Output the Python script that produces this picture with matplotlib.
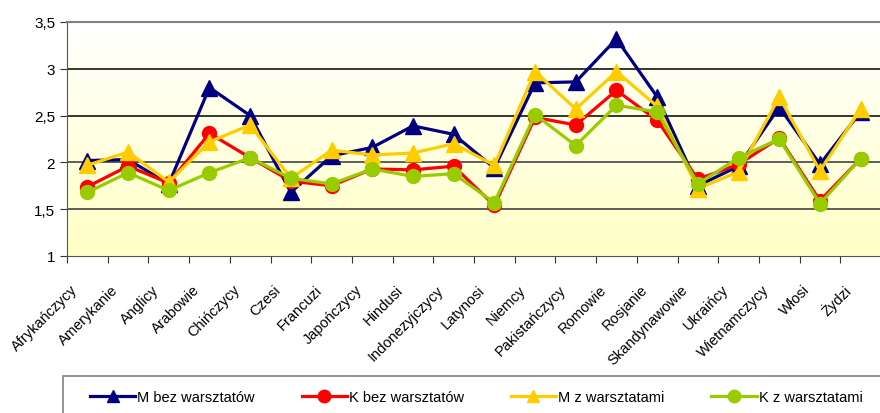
import numpy as np
import matplotlib
matplotlib.use('Agg')
import matplotlib.pyplot as plt
import matplotlib.transforms as mtransforms
from matplotlib.patches import Rectangle
from matplotlib.ticker import FixedLocator, FuncFormatter, NullFormatter

plt.rcParams['font.family'] = ['Liberation Sans', 'DejaVu Sans']

# categories and series
groups = ['Afrykańczycy', 'Amerykanie', 'Anglicy', 'Arabowie', 'Chińczycy', 'Czesi',
          'Francuzi', 'Japończycy', 'Hindusi', 'Indonezyjczycy', 'Latynosi', 'Niemcy',
          'Pakistańczycy', 'Romowie', 'Rosjanie', 'Skandynawowie', 'Ukraińcy',
          'Wietnamczycy', 'Włosi', 'Żydzi']
m_bez = [2.02, 2.03, 1.77, 2.80, 2.50, 1.68, 2.07, 2.16, 2.39, 2.30,
         1.94, 2.85, 2.86, 3.32, 2.70, 1.75, 1.96, 2.59, 1.98, 2.54]
k_bez = [1.74, 1.96, 1.78, 2.31, 2.05, 1.80, 1.75, 1.93, 1.92, 1.96,
         1.54, 2.48, 2.40, 2.77, 2.45, 1.82, 1.98, 2.26, 1.59, 2.04]
m_z = [1.97, 2.11, 1.79, 2.22, 2.40, 1.83, 2.13, 2.08, 2.10, 2.20,
       1.97, 2.97, 2.57, 2.97, 2.60, 1.72, 1.90, 2.70, 1.91, 2.57]
k_z = [1.68, 1.89, 1.70, 1.89, 2.05, 1.83, 1.77, 1.93, 1.85, 1.88,
       1.57, 2.51, 2.18, 2.61, 2.54, 1.77, 2.05, 2.25, 1.56, 2.04]
y_ticks = [1, 1.5, 2, 2.5, 3, 3.5]

fig = plt.figure(figsize=(8.8, 4.14), dpi=100)
ax = fig.add_axes([67 / 880, 1 - 257 / 414, 814 / 880, 234 / 414])

x = np.arange(len(groups))
ax.set_xlim(-0.5, len(groups) - 0.5)
ax.set_ylim(1, 3.5)

# white -> pale yellow gradient behind the plot
grad = np.linspace(0, 1, 256).reshape(-1, 1)
cmap = matplotlib.colors.LinearSegmentedColormap.from_list('bg', ['#FFFFFF', '#FFFFC6'])
ax.imshow(grad, extent=(-0.5, len(groups) - 0.5, 1, 3.5), cmap=cmap,
          aspect='auto', zorder=0, origin='upper')

for v in [1.5, 2, 2.5, 3]:
    ax.axhline(v, color='#000000' if v >= 2.5 else '#333333', lw=1.1, zorder=1)

ax.plot(x, m_bez, color='#000080', lw=2.3, marker='^', ms=11, label='M bez warsztatów', zorder=3)
ax.plot(x, k_bez, color='#FF0000', lw=2.3, marker='o', ms=10, label='K bez warsztatów', zorder=4)
ax.plot(x, m_z, color='#FFCC00', lw=2.3, marker='^', ms=11, label='M z warsztatami', zorder=5)
ax.plot(x, k_z, color='#99CC00', lw=2.3, marker='o', ms=10, label='K z warsztatami', zorder=6)

# category ticks sit on the boundaries, labels drawn as rotated texts
ax.set_xticks(np.arange(-0.5, len(groups), 1))
ax.xaxis.set_major_formatter(NullFormatter())
ax.tick_params(axis='x', length=5, color='#333333')
shift = mtransforms.ScaledTranslation(-12 / 100, -31 / 100, fig.dpi_scale_trans)
for i, name in enumerate(groups):
    ax.text(i, 0, name, rotation=45, ha='right', va='center', rotation_mode='anchor',
            fontsize=10.5, transform=ax.get_xaxis_transform() + shift, clip_on=False)

ax.yaxis.set_major_locator(FixedLocator(y_ticks))
ax.yaxis.set_major_formatter(FuncFormatter(lambda v, p: ('%g' % v).replace('.', ',')))
ax.tick_params(axis='y', length=5, labelsize=11, color='#333333')

ax.spines['right'].set_visible(False)
ax.spines['top'].set_color('#808080')
ax.spines['top'].set_linewidth(1.5)
ax.spines['left'].set_color('#555555')
ax.spines['bottom'].set_color('#555555')

# legend box runs off the right and bottom edges like in the original
fig.add_artist(Rectangle((63 / 880, -0.05), 0.95, 1 - 377 / 414 + 0.05,
                         transform=fig.transFigure, fill=False,
                         edgecolor='#808080', lw=1.2))
leg = fig.legend(loc='center left', bbox_to_anchor=(90 / 880, 1 - 398 / 414),
                 ncol=4, fontsize=10.5, frameon=False, borderpad=0, borderaxespad=0,
                 handlelength=3.1, handletextpad=0.15, columnspacing=3.2)
for h in leg.legend_handles:
    h.set_markersize(9)

fig.savefig('out.png', dpi=100)
